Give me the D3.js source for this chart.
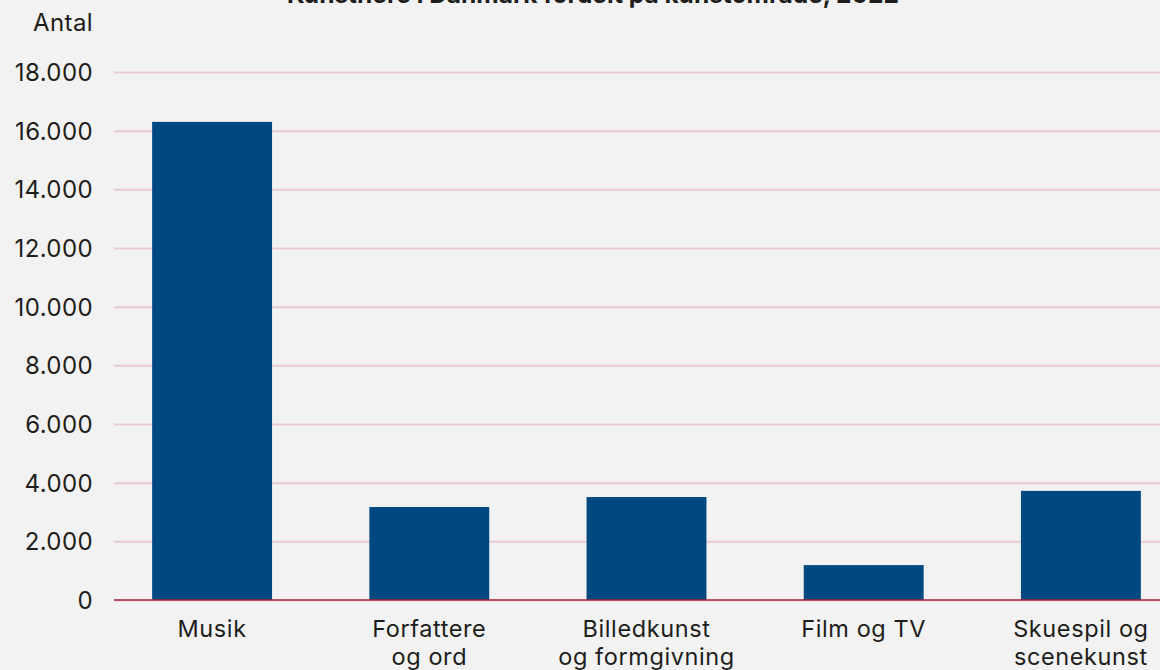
<!DOCTYPE html>
<html>
<head>
<meta charset="utf-8">
<script src="https://cdn.jsdelivr.net/npm/d3@7"></script>
<style>
  body { margin: 0; background: #f2f2f2; }
  svg { display: block; }
  text { font-family: Inter, "Open Sans", sans-serif; fill: #1d1d1b; }
</style>
</head>
<body>
<svg id="chart" width="1160" height="670"></svg>
<script>
// data
var categories = [["Musik"], ["Forfattere", "og ord"], ["Billedkunst", "og formgivning"], ["Film og TV"], ["Skuespil og", "scenekunst"]];
var values = [16300, 3170, 3510, 1190, 3720];
var yTicks = [0, 2000, 4000, 6000, 8000, 10000, 12000, 14000, 16000, 18000];
var title = "Kunstnere i Danmark fordelt på kunstområde, 2022";
var yLabel = "Antal";

var chart = {};
chart.svg = d3.select("#chart");
chart.size = {width: 1160, height: 670};

chart.scale = {
    x: d3.scaleBand()
         .domain(d3.range(categories.length))
         .range([103.5, 1189.5])
         .paddingInner(0.448)
         .paddingOuter(0.224),
    y: d3.scaleLinear()
         .domain([0, 18000])
         .range([600, 72])
};

var fmt = d => d3.format(",")(d).replace(/,/g, ".");

// gridlines
chart.svg.append("g")
    .selectAll("line")
    .data(yTicks)
    .join("line")
    .attr("x1", 114)
    .attr("x2", chart.size.width)
    .attr("y1", d => chart.scale.y(d) + 0.5)
    .attr("y2", d => chart.scale.y(d) + 0.5)
    .attr("stroke", "#e9c9d2")
    .attr("stroke-width", 2);

// y axis labels
var yAxis = chart.svg.append("g")
    .attr("transform", "translate(93,0)")
    .call(d3.axisLeft(chart.scale.y).tickValues(yTicks).tickFormat(fmt).tickSize(0).tickPadding(0));
yAxis.select(".domain").remove();
yAxis.selectAll("text")
    .attr("font-size", 24)
    .attr("font-family", "Inter, 'Open Sans', sans-serif")
    .attr("letter-spacing", 0.4)
    .attr("fill", "#1d1d1b")
    .attr("dy", "0.36em");

chart.svg.append("text")
    .attr("x", 93)
    .attr("y", 31)
    .attr("text-anchor", "end")
    .attr("font-size", 24)
    .attr("letter-spacing", 0.4)
    .text(yLabel);

// bars
chart.svg.append("g")
    .selectAll("rect")
    .data(values)
    .join("rect")
    .attr("x", (d, i) => chart.scale.x(i))
    .attr("width", chart.scale.x.bandwidth())
    .attr("y", d => chart.scale.y(d))
    .attr("height", d => chart.scale.y(0) - chart.scale.y(d))
    .attr("fill", "#004880");

// baseline
chart.svg.append("line")
    .attr("x1", 114)
    .attr("x2", chart.size.width)
    .attr("y1", chart.scale.y(0))
    .attr("y2", chart.scale.y(0))
    .attr("stroke", "#a3243b")
    .attr("stroke-width", 1.5);

// category labels
var cat = chart.svg.append("g")
    .selectAll("text")
    .data(categories)
    .join("text")
    .attr("text-anchor", "middle")
    .attr("font-size", 23.5)
    .attr("letter-spacing", 0.6)
    .attr("transform", (d, i) => `translate(${chart.scale.x(i) + chart.scale.x.bandwidth() / 2},637)`);
cat.selectAll("tspan")
    .data(d => d)
    .join("tspan")
    .attr("x", 0)
    .attr("dy", (d, i) => i ? 28 : 0)
    .text(d => d);

// title (cut off at top of the frame)
chart.svg.append("text")
    .attr("x", 593)
    .attr("y", 3)
    .attr("text-anchor", "middle")
    .attr("font-size", 24.5)
    .attr("font-weight", "bold")
    .text(title);
</script>
</body>
</html>
